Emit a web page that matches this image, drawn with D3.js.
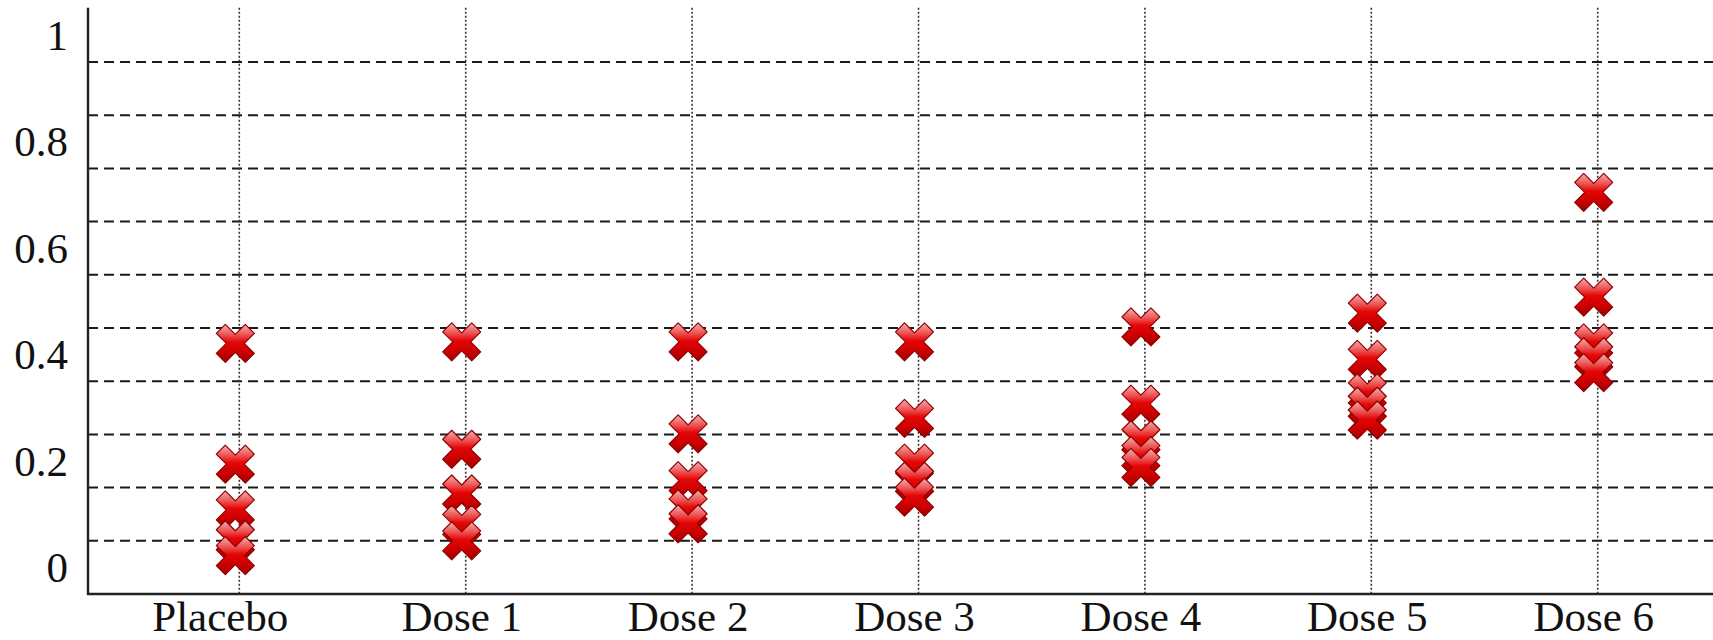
<!DOCTYPE html>
<html>
<head>
<meta charset="utf-8">
<script src="https://cdn.jsdelivr.net/npm/d3@7"></script>
<style>
  html, body { margin: 0; padding: 0; background: #fff; }
  svg { display: block; }
</style>
</head>
<body>
<svg id="chart" width="1713" height="640"></svg>
<script>
// ---- data ----
const categories = ["Placebo", "Dose 1", "Dose 2", "Dose 3", "Dose 4", "Dose 5", "Dose 6"];
const placebo = [0.421, 0.194, 0.108, 0.052, 0.022];
const dose1   = [0.424, 0.222, 0.138, 0.081, 0.050];
const dose2   = [0.424, 0.251, 0.163, 0.110, 0.082];
const dose3   = [0.424, 0.280, 0.196, 0.162, 0.132];
const dose4   = [0.452, 0.307, 0.240, 0.210, 0.188];
const dose5   = [0.478, 0.391, 0.328, 0.303, 0.277];
const dose6   = [0.705, 0.508, 0.422, 0.396, 0.366];
const seriesValues = [placebo, dose1, dose2, dose3, dose4, dose5, dose6];
const yTickValues = [0, 0.2, 0.4, 0.6, 0.8, 1];
const yTickLabels = ["0", "0.2", "0.4", "0.6", "0.8", "1"];
const gridValues = [0.05, 0.15, 0.25, 0.35, 0.45, 0.55, 0.65, 0.75, 0.85, 0.95];

// ---- layout ----
const W = 1713, H = 640;
const axisX = 88, axisY = 594, topY = 8.8;
const svg = d3.select("#chart");

const x = d3.scalePoint().domain(categories).range([239.3, 1597.7]);
const y = d3.scaleLinear().domain([-0.05, 1.05]).range([axisY, topY]);

// marker gradient
const defs = svg.append("defs");
const grad = defs.append("linearGradient").attr("id", "xgrad")
  .attr("x1", "0").attr("y1", "0").attr("x2", "0").attr("y2", "1");
grad.append("stop").attr("offset", "0%").attr("stop-color", "#f4b0b0");
grad.append("stop").attr("offset", "28%").attr("stop-color", "#ec5050");
grad.append("stop").attr("offset", "46%").attr("stop-color", "#e60606");
grad.append("stop").attr("offset", "75%").attr("stop-color", "#c80000");
grad.append("stop").attr("offset", "100%").attr("stop-color", "#a00000");

// horizontal dashed gridlines
const gridG = svg.append("g");
gridG.selectAll("line").data(gridValues).join("line")
  .attr("x1", axisX).attr("x2", W)
  .attr("y1", d => y(d)).attr("y2", d => y(d))
  .attr("stroke", "#1a1a1a").attr("stroke-width", 2)
  .attr("stroke-dasharray", "10,6");

// vertical dotted lines
svg.append("g").selectAll("line").data(categories).join("line")
  .attr("x1", d => x(d)).attr("x2", d => x(d))
  .attr("y1", topY - 1).attr("y2", axisY)
  .attr("stroke", "#333").attr("stroke-width", 1.6)
  .attr("stroke-dasharray", "2,2");

// axes lines
svg.append("line").attr("x1", axisX).attr("x2", axisX).attr("y1", topY - 1).attr("y2", axisY + 1)
  .attr("stroke", "#222").attr("stroke-width", 2.4);
svg.append("line").attr("x1", axisX - 1).attr("x2", W).attr("y1", axisY).attr("y2", axisY)
  .attr("stroke", "#222").attr("stroke-width", 2.6);

// y tick labels
svg.append("g").selectAll("text").data(yTickValues).join("text")
  .attr("x", 68).attr("y", d => y(d)).attr("dy", "0.34em")
  .attr("text-anchor", "end")
  .attr("font-family", "'Liberation Serif', 'DejaVu Serif', serif")
  .attr("font-size", 43).attr("fill", "#111")
  .text((d, i) => yTickLabels[i]);

// x labels
svg.append("g").selectAll("text").data(categories).join("text")
  .attr("x", (d, i) => x(d) - 4 + (i === 0 ? -15 : 0)).attr("y", 631)
  .attr("text-anchor", "middle")
  .attr("font-family", "'Liberation Serif', 'DejaVu Serif', serif")
  .attr("font-size", 43).attr("fill", "#111")
  .text(d => d);

// X marker path
const a = 19, t = 9;
const xPath = `M${-a},${-a + t} L${-a + t},${-a} L0,${-t} L${a - t},${-a} L${a},${-a + t} L${t},0 L${a},${a - t} L${a - t},${a} L0,${t} L${-a + t},${a} L${-a},${a - t} L${-t},0 Z`;

const points = [];
categories.forEach((c, i) => {
  seriesValues[i].forEach(v => points.push({ c, v }));
});
points.sort((p, q) => q.v - p.v);

svg.append("g").selectAll("path").data(points).join("path")
  .attr("d", xPath)
  .attr("transform", d => `translate(${x(d.c) - 4},${y(d.v)})`)
  .attr("fill", "url(#xgrad)")
  .attr("stroke", "#8e0000").attr("stroke-width", 1.2)
  .attr("stroke-linejoin", "round");
</script>
</body>
</html>
